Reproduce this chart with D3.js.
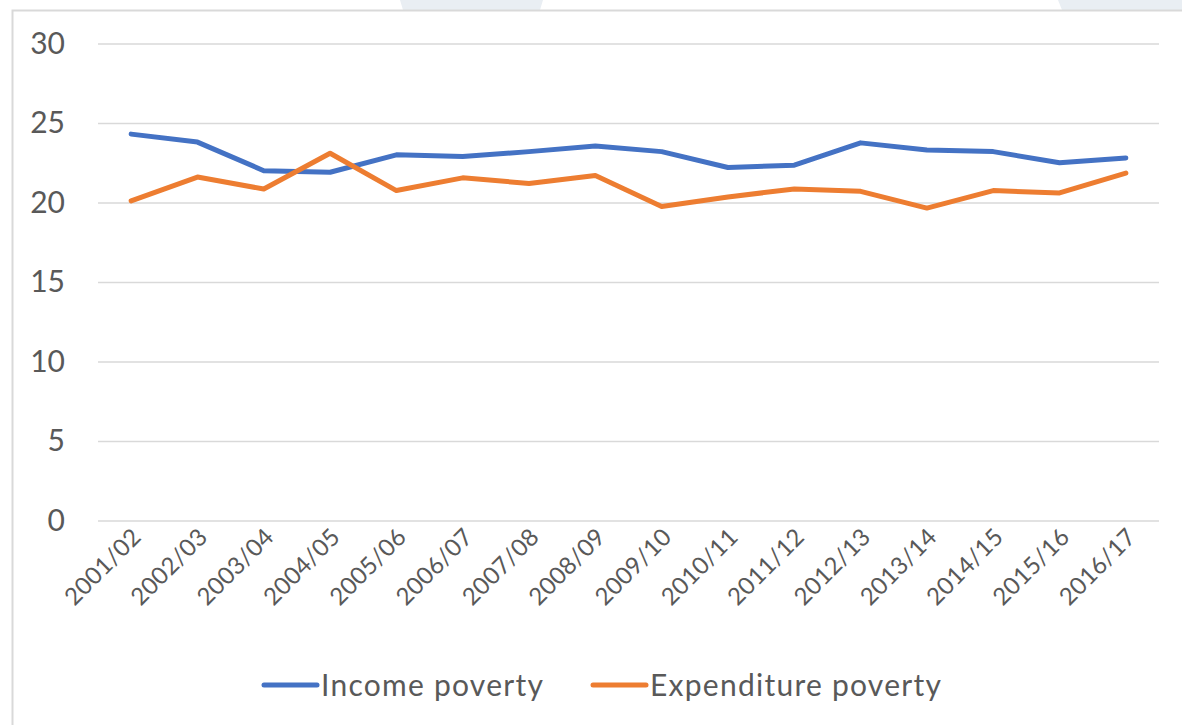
<!DOCTYPE html>
<html>
<head>
<meta charset="utf-8">
<script src="https://cdn.jsdelivr.net/npm/d3@7"></script>
<style>
  body { margin: 0; background: #fff; }
  text { font-family: Lato, "Open Sans", sans-serif; fill: #595959; }
</style>
</head>
<body>
<div id="chart"></div>
<script>
// data
var years = ['2001/02', '2002/03', '2003/04', '2004/05', '2005/06', '2006/07', '2007/08', '2008/09',
    '2009/10', '2010/11', '2011/12', '2012/13', '2013/14', '2014/15', '2015/16', '2016/17'];
var incomePoverty = [24.3, 23.8, 22.0, 21.9, 23.0, 22.9, 23.2, 23.55, 23.2, 22.2, 22.35, 23.75, 23.3, 23.2, 22.5, 22.8];
var expenditurePoverty = [20.1, 21.6, 20.85, 23.1, 20.75, 21.55, 21.2, 21.7, 19.75, 20.35, 20.85, 20.7, 19.65, 20.75, 20.6, 21.85];
var yTicks = [0, 5, 10, 15, 20, 25, 30];
var seriesNames = ['Income poverty', 'Expenditure poverty'];
var seriesColors = ['#4472c4', '#ed7d31'];

var config = {
    w: 1182,
    h: 725,
    left: 98,
    right: 1159,
    top: 43.5,
    bottom: 520.5
};

var svg = d3.select('#chart').append('svg')
    .attr('width', config.w)
    .attr('height', config.h);

// faint shapes peeking in at the top edge of the screenshot
svg.append('path')
    .attr('d', 'M400,0 L543,0 L540,10 L403,10 Z')
    .style('fill', '#e9eef3');
svg.append('path')
    .attr('d', 'M1058,0 L1182,0 L1182,10 L1062,10 Z')
    .style('fill', '#e9eef3');

// chart frame (only top and left edges are in view)
svg.append('path')
    .attr('d', 'M12.5,' + config.h + ' L12.5,10.5 L' + config.w + ',10.5')
    .style('fill', 'none')
    .style('stroke', '#d9d9d9')
    .style('stroke-width', '2px');

var x = d3.scalePoint()
    .domain(years)
    .range([config.left, config.right])
    .padding(0.5);

var y = d3.scaleLinear()
    .domain([0, 30])
    .range([config.bottom, config.top]);

// gridlines + y labels
var yAxis = d3.axisLeft(y)
    .tickValues(yTicks)
    .tickSize(-(config.right - config.left))
    .tickPadding(33);

var gy = svg.append('g')
    .attr('transform', 'translate(' + config.left + ',0)')
    .call(yAxis);
gy.select('.domain').remove();
gy.selectAll('.tick line')
    .style('stroke', '#d9d9d9')
    .style('stroke-width', '1.5px');
gy.selectAll('.tick text')
    .style('font-size', '30px')
    .style('fill', '#595959');

// x labels, rotated
var xAxis = d3.axisBottom(x).tickSize(0);
var gx = svg.append('g')
    .attr('transform', 'translate(0,' + config.bottom + ')')
    .call(xAxis);
gx.select('.domain').remove();
gx.selectAll('.tick text')
    .attr('text-anchor', 'end')
    .attr('dy', null)
    .attr('y', 0)
    .attr('transform', 'translate(11,18) rotate(-45)')
    .style('font-size', '24px')
    .style('letter-spacing', '0.3px')
    .style('fill', '#595959');

// lines
var line = d3.line()
    .x(function (d, i) { return x(years[i]); })
    .y(function (d) { return y(d); });

[incomePoverty, expenditurePoverty].forEach(function (values, i) {
    svg.append('path')
        .datum(values)
        .attr('d', line)
        .style('fill', 'none')
        .style('stroke', seriesColors[i])
        .style('stroke-width', '5px')
        .style('stroke-linejoin', 'round')
        .style('stroke-linecap', 'round');
});

// legend
var legendX = [264, 593];
var legend = svg.selectAll('.legend')
    .data(seriesNames)
    .join('g')
    .attr('class', 'legend')
    .attr('transform', function (d, i) { return 'translate(' + legendX[i] + ',685)'; });

legend.append('line')
    .attr('x1', 0)
    .attr('x2', 53)
    .style('stroke', function (d, i) { return seriesColors[i]; })
    .style('stroke-width', '5px')
    .style('stroke-linecap', 'round');

legend.append('text')
    .attr('x', 57)
    .attr('dy', '0.35em')
    .style('font-size', '30px')
    .style('letter-spacing', '1.25px')
    .text(function (d) { return d; });
</script>
</body>
</html>
